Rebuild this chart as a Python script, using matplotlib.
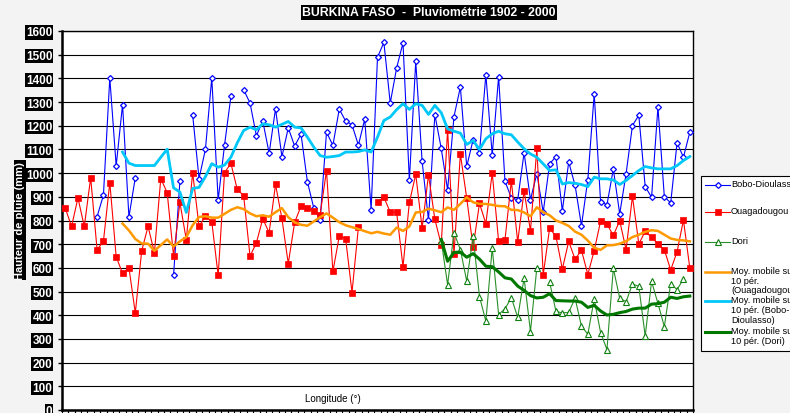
import numpy as np
import matplotlib.pyplot as plt
from matplotlib.lines import Line2D
from matplotlib.patches import Rectangle

nan = np.nan
years = np.arange(1902, 2001)

# Rainfall (mm) per year (nan = no data)
bobo = [nan, nan, nan, nan, nan, 816, 907, 1402, 1031, 1289,
        815, 981, nan, nan, nan, nan, nan, 568, 967, nan,
        1245, 977, 1100, 1402, 887, 1118, 1324, nan, 1352, 1296,
        1158, 1220, 1084, 1272, 1069, 1191, 1114, 1165, 964, 853,
        802, 1173, 1117, 1270, 1220, 1204, 1118, 1228, 846, 1489,
        1552, 1296, 1444, 1550, 970, 1472, 1050, 802, 1247, 1104,
        929, 1239, 1363, 1028, 1141, 1086, 1416, 1077, 1407, 966,
        895, 888, 1086, 888, 998, 835, 1039, 1070, 841, 1047,
        948, 778, 973, 1334, 880, 866, 1017, 828, 997, 1201,
        1244, 943, 898, 1279, 901, 874, 1128, 1067, 1173]

ouaga = [853, 775, 895, 775, 981, 677, 712, 960, 647, 577,
         601, 409, 671, 775, 664, 977, 918, 651, 876, 719,
         1002, 775, 819, 795, 568, 1002, 1041, 931, 905, 649,
         706, 807, 749, 952, 809, 618, 792, 860, 854, 839,
         825, 1011, 585, 733, 723, 496, 771, nan, nan, 880,
         898, 835, 835, 605, 876, 995, 768, 993, 805, 698,
         1184, 658, 1081, 894, 687, 872, 787, 1001, 713, 718,
         967, 709, 925, 756, 1105, 571, 767, 733, 595, 712,
         636, 675, 572, 673, 797, 785, 737, 799, 677, 902,
         701, 754, 729, 701, 677, 591, 668, 802, 599]

dori = [nan] * 59 + [715,
        529, 749, 677, 544, 734, 479, 375, 684, 403, 427,
        474, 391, 557, 331, 601, nan, 541, 416, 410, 412,
        472, 354, 320, 468, 327, 255, 598, 472, 457, 532,
        522, 312, 543, 450, 352, 534, 508, 553, nan]

# 10-period moving averages as drawn on the chart
ma_ouaga = [nan] * 9 + [787,
            758, 722, 703, 702, 672, 696, 720, 690, 712, 730,
            780, 815, 818, 812, 812, 828, 845, 856, 848, 830,
            818, 822, 816, 835, 852, 814, 792, 782, 778, 796,
            814, 830, 812, 793, 780, 772, 764, 755, 746, 752,
            745, 740, 770, 756, 775, 834, 836, 850, 843, 835,
            855, 845, 870, 898, 877, 870, 870, 866, 861, 860,
            845, 844, 834, 818, 856, 835, 822, 800, 790, 777,
            753, 740, 715, 685, 676, 695, 696, 702, 713, 730,
            740, 752, 759, 756, 740, 724, 718, 716, 712]

ma_bobo = [nan] * 9 + [1089,
           1042, 1032, 1032, 1032, 1032, 1067, 1101, 938, 920, 834,
           935, 940, 985, 1040, 1025, 1034, 1067, 1128, 1180, 1194,
           1183, 1208, 1204, 1194, 1206, 1218, 1194, 1191, 1152, 1110,
           1074, 1067, 1070, 1074, 1089, 1089, 1091, 1098, 1089, 1152,
           1222, 1237, 1268, 1293, 1269, 1293, 1286, 1248, 1286, 1255,
           1187, 1177, 1169, 1121, 1138, 1100, 1145, 1166, 1177, 1166,
           1162, 1131, 1103, 1081, 1067, 1039, 1011, 1014, 954, 960,
           957, 952, 943, 983, 976, 976, 971, 952, 969, 990,
           1011, 1028, 1022, 1018, 1018, 1018, 1032, 1053, 1070]

ma_dori = [nan] * 59 + [720,
           628, 665, 667, 645, 660, 637, 607, 605, 583, 558,
           553, 523, 505, 483, 473, 476, 491, 462, 461, 460,
           460, 455, 433, 442, 418, 401, 404, 411, 416, 426,
           430, 430, 447, 449, 455, 476, 471, 478, 481]

plt.rcParams['font.family'] = ['Liberation Sans', 'DejaVu Sans']

W, H = 790, 414


def fx(px):
    return px / W


def fy(py):
    return 1 - py / H


# series styles (shared by plot and hand-made legend)
bobo_style = dict(color='#0000ff', lw=0.8, marker='D', ms=3.0, mfc='white', mec='#0000ff', mew=0.9)
ouaga_style = dict(color='#ff0000', lw=0.8, marker='s', ms=4.4, mfc='#ff0000', mec='#ff0000', mew=0.5)
dori_style = dict(color='#2a8f2a', lw=0.8, marker='^', ms=4.4, mfc='white', mec='#108010', mew=0.8)
ma_ouaga_style = dict(color='#ff9900', lw=1.8)
ma_bobo_style = dict(color='#00c8f8', lw=2.0)
ma_dori_style = dict(color='#007800', lw=2.2)

fig = plt.figure(figsize=(7.9, 4.14), dpi=100, facecolor='#f3f3f3')
ax = fig.add_axes([fx(62), fy(411), fx(693) - fx(62), fy(32) - fy(411)])
ax.set_facecolor('white')

x = np.arange(len(years))

# data series
ax.plot(x, bobo, zorder=3, **bobo_style)
ax.plot(x, ouaga, zorder=3, **ouaga_style)
ax.plot(x, dori, zorder=3, **dori_style)

# moving averages
ax.plot(x, ma_ouaga, zorder=4, **ma_ouaga_style)
ax.plot(x, ma_bobo, zorder=4, **ma_bobo_style)
ax.plot(x, ma_dori, zorder=4, **ma_dori_style)

ax.set_xlim(-0.5, len(years) - 0.5)
ax.set_ylim(0, 1600)
ax.set_yticks(range(0, 1700, 100))
ax.set_yticklabels([str(v) for v in range(0, 1700, 100)])
ax.set_xticks(np.arange(-0.5, len(years), 1))
ax.set_xticklabels([])
ax.grid(axis='y', color='black', lw=0.8)
ax.set_axisbelow(True)

ax.tick_params(axis='y', length=3, width=1, pad=4, labelsize=8.5, labelcolor='white')
ax.tick_params(axis='x', length=3, width=0.8)
for lab in ax.get_yticklabels():
    lab.set_fontweight('bold')
    lab.set_bbox(dict(facecolor='black', edgecolor='none', pad=0.8))

ax.spines['left'].set_linewidth(1.8)
ax.spines['bottom'].set_linewidth(1.8)
ax.spines['top'].set_linewidth(1.0)
ax.spines['right'].set_linewidth(1.0)

# x axis title sits inside the plot area in the original
fig.text(fx(333), fy(399), 'Longitude (°)', fontsize=7, ha='center', va='center')

# title and y label (white on black)
fig.text(fx(429), fy(13.5), 'BURKINA FASO  -  Pluviométrie 1902 - 2000',
         fontsize=8.8, fontweight='bold', color='white', ha='center', va='center',
         bbox=dict(facecolor='black', edgecolor='none', pad=1.2))
fig.text(fx(20), fy(221), 'Hauteur de pluie (mm)', rotation=90,
         fontsize=8, fontweight='bold', color='white', ha='center', va='center',
         bbox=dict(facecolor='black', edgecolor='none', pad=1.0))

# legend drawn by hand so that it runs off the right edge like the original
fig.patches.append(Rectangle((fx(701), fy(352)), fx(820) - fx(701), fy(177) - fy(352),
                             transform=fig.transFigure, facecolor='white',
                             edgecolor='black', lw=0.8))

entries = [
    (185.5, bobo_style, 'Bobo-Dioulasso'),
    (212.5, ouaga_style, 'Ouagadougou'),
    (242.5, dori_style, 'Dori'),
    (272.5, ma_ouaga_style, 'Moy. mobile sur\n10 pér.\n(Ouagadougou)'),
    (302.0, ma_bobo_style, 'Moy. mobile sur\n10 pér. (Bobo-\nDioulasso)'),
    (332.5, ma_dori_style, 'Moy. mobile sur\n10 pér. (Dori)'),
]
for ypx, style, label in entries:
    fig.lines.append(Line2D([fx(705), fx(730)], [fy(ypx), fy(ypx)],
                            transform=fig.transFigure,
                            color=style['color'], lw=style['lw']))
    if 'marker' in style:
        mstyle = {k: v for k, v in style.items() if k not in ('color', 'lw')}
        fig.lines.append(Line2D([fx(717.5)], [fy(ypx)], transform=fig.transFigure,
                                linestyle='none', **mstyle))
    fig.text(fx(731), fy(ypx - 5.5), label, fontsize=6.6, ha='left', va='top',
             linespacing=1.08)

fig.savefig('out.png', dpi=100, facecolor=fig.get_facecolor())
